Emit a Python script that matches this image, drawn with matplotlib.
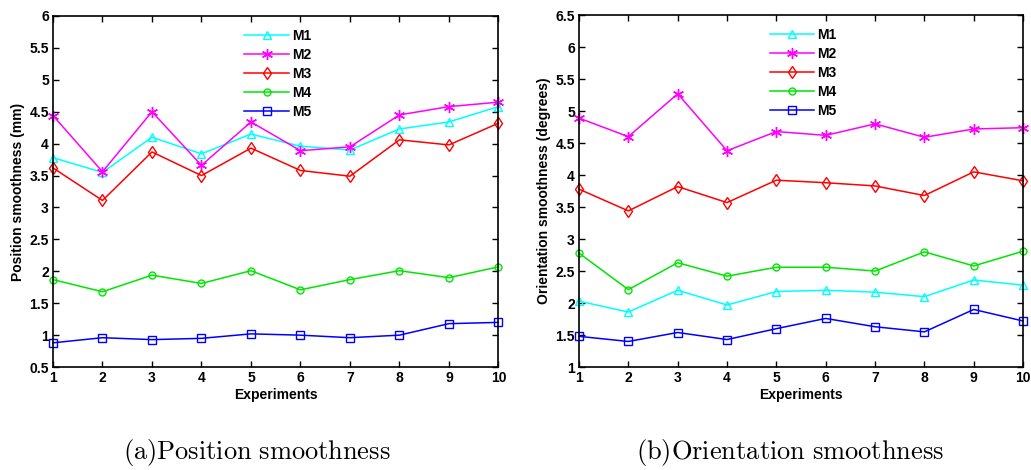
import matplotlib.pyplot as plt

plt.rcParams['font.family'] = ['Liberation Sans', 'DejaVu Sans']
plt.rcParams['font.weight'] = 'bold'
plt.rcParams['axes.labelweight'] = 'bold'
plt.rcParams['mathtext.fontset'] = 'cm'

# Experiment numbers on the x axis.
experiments = [1, 2, 3, 4, 5, 6, 7, 8, 9, 10]
method_names = ["M1", "M2", "M3", "M4", "M5"]

# (a) Position smoothness (mm).
pos_m1 = [3.78, 3.55, 4.10, 3.84, 4.15, 3.96, 3.90, 4.23, 4.34, 4.58]
pos_m2 = [4.44, 3.56, 4.50, 3.66, 4.34, 3.89, 3.95, 4.45, 4.58, 4.65]
pos_m3 = [3.62, 3.11, 3.87, 3.50, 3.93, 3.58, 3.49, 4.06, 3.98, 4.32]
pos_m4 = [1.87, 1.68, 1.94, 1.81, 2.01, 1.71, 1.87, 2.01, 1.90, 2.07]
pos_m5 = [0.88, 0.96, 0.93, 0.95, 1.02, 1.00, 0.96, 1.00, 1.18, 1.20]

# (b) Orientation smoothness (degrees).
ori_m1 = [2.03, 1.86, 2.20, 1.97, 2.18, 2.20, 2.17, 2.10, 2.36, 2.28]
ori_m2 = [4.89, 4.60, 5.27, 4.38, 4.68, 4.62, 4.80, 4.59, 4.72, 4.74]
ori_m3 = [3.78, 3.44, 3.82, 3.57, 3.92, 3.88, 3.83, 3.68, 4.05, 3.91]
ori_m4 = [2.78, 2.21, 2.63, 2.42, 2.56, 2.56, 2.50, 2.80, 2.58, 2.81]
ori_m5 = [1.48, 1.40, 1.54, 1.43, 1.60, 1.76, 1.63, 1.55, 1.90, 1.72]

styles = [
    dict(color="#00ffff", marker="^", markersize=6),
    dict(color="#ff00ff", marker=(6, 2, 0), markersize=8),
    dict(color="#ff0000", marker="d", markersize=6),
    dict(color="#00e600", marker="o", markersize=5),
    dict(color="#0000ff", marker="s", markersize=6),
]


def draw_panel(ax, series, ylabel, y_min, y_max):
    for values, name, style in zip(series, method_names, styles):
        ax.plot(experiments, values, label=name, linewidth=1.1,
                markerfacecolor="none", markeredgewidth=1.0,
                clip_on=False, **style)

    ax.set_xlim(1, 10)
    ax.set_ylim(y_min, y_max)
    ax.set_xticks(experiments)
    ticks = [y_min + 0.5 * i for i in range(int((y_max - y_min) / 0.5) + 1)]
    ax.set_yticks(ticks)
    ax.set_yticklabels([f"{t:g}" for t in ticks])
    ax.tick_params(direction="in", top=True, right=True, labelsize=10,
                   length=4, width=1.0, pad=3)
    for spine in ax.spines.values():
        spine.set_linewidth(1.2)

    ax.set_xlabel("Experiments", fontsize=10, labelpad=2)
    ax.set_ylabel(ylabel, fontsize=10, labelpad=3)

    ax.legend(loc="upper left", bbox_to_anchor=(0.408, 0.99), frameon=False,
              numpoints=1, fontsize=10, handlelength=3.2,
              handletextpad=0.2, labelspacing=0.36, borderaxespad=0.3)


fig = plt.figure(figsize=(10.31, 4.70), dpi=100)
ax_left = fig.add_axes([0.0514, 0.219, 0.432, 0.747])
ax_right = fig.add_axes([0.5616, 0.219, 0.4307, 0.749])

draw_panel(ax_left, [pos_m1, pos_m2, pos_m3, pos_m4, pos_m5],
           "Position smoothness (mm)", 0.5, 6.0)
draw_panel(ax_right, [ori_m1, ori_m2, ori_m3, ori_m4, ori_m5],
           "Orientation smoothness (degrees)", 1.0, 6.5)

fig.text(0.249, 0.038, r"$\mathrm{(a)Position\ smoothness}$",
         ha="center", va="center", fontsize=19)
fig.text(0.766, 0.038, r"$\mathrm{(b)Orientation\ smoothness}$",
         ha="center", va="center", fontsize=19)

plt.savefig("out.png", dpi=100)
plt.close()
